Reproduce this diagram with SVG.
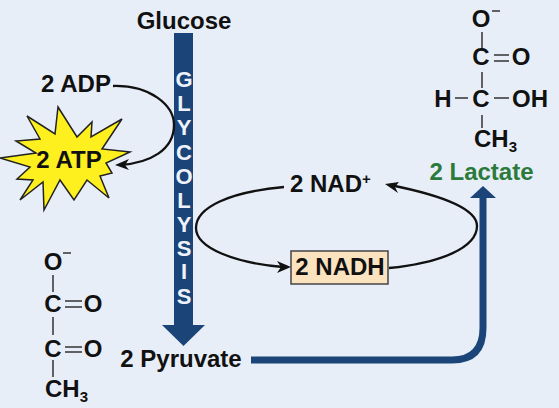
<svg xmlns="http://www.w3.org/2000/svg" width="559" height="408" viewBox="0 0 559 408">
<style>
text{font-family:"Liberation Sans",Arial,sans-serif;font-weight:700;font-size:24px;fill:#111;text-anchor:middle}
.g{font-size:22px;fill:#eef2fa}
.s{text-anchor:start}
.b{fill:none;stroke:#333;stroke-width:1.500}
.l{fill:none;stroke:#111;stroke-width:2.300}
.h{fill:#111}
</style>
<rect width="559" height="408" fill="#e8eef8"/>
<g id="connectors">
<path d="M174 33H193V325H205L183.500 346L162 325H174Z" fill="#1b4479"/>
<path d="M251 360H452Q483 360 483 328V196" fill="none" stroke="#1b4479" stroke-width="7"/>
<path d="M470 198L483 186L496 198Z" fill="#1b4479"/>
<path class="l" d="M113 86C150 85 174 105 174 125C174 150 150 163 120 165"/>
<path class="h" d="M115 165L129 159L125 165L129 170Z"/>
<path class="l" d="M284 187C230 192 196 207 196 228C196 248 235 263 283 267"/>
<path class="h" d="M291 267L277 261L281 267L277 273Z"/>
<path class="l" d="M390 185C440 195 477 208 477 226C477 248 440 263 389 268"/>
<path class="h" d="M385 184L399 182L395 187L398 193Z"/>
</g>
<g id="glycolysis"><text class="g"><tspan x="184" y="87">G</tspan><tspan x="184" y="111">L</tspan><tspan x="184" y="135">Y</tspan><tspan x="184" y="160">C</tspan><tspan x="184" y="184">O</tspan><tspan x="184" y="208">L</tspan><tspan x="184" y="232">Y</tspan><tspan x="184" y="256">S</tspan><tspan x="184" y="279">I</tspan><tspan x="184" y="304">S</tspan></text></g>
<g id="glucose"><text x="184" y="29">Glucose</text></g>
<g id="adp"><text x="76" y="92">2 ADP</text></g>
<g id="atp"><polygon points="58,107 77,137 92,122 91,137 122,119 102,149 130,152 106,163 112,173 100,176 109,198 87,180 74,200 60,180 44,210 43,182 20,200 33,180 17,179 30,167 0,158 36,153 16,141 40,139 27,116 55,134" fill="#fdf01e" stroke="#222" stroke-width="1.500"/><text x="69" y="168">2 ATP</text></g>
<g id="nad"><text class="s" x="290" y="192">2 NAD<tspan font-size="15" dy="-8">+</tspan></text></g>
<g id="nadh"><rect x="291" y="251" width="97" height="33" fill="#fce3c0" stroke="#444" stroke-width="1.500"/><text x="340" y="275">2 NADH</text></g>
<g id="pyruvate"><text x="181" y="367">2 Pyruvate</text></g>
<g id="lactate"><text x="481.500" y="180" style="fill:#2a7a3c">2 Lactate</text></g>
<g id="lactate-structure">
<text x="481" y="27">O</text>
<text x="481" y="65">C</text><text x="521" y="65">O</text>
<text x="443" y="107">H</text><text x="481" y="107">C</text><text x="530" y="107">OH</text>
<text class="s" x="474" y="147">CH<tspan font-size="15" dy="5">3</tspan></text>
<path class="b" d="M492 11H500M482 32V48M482 72V88M482 115V128M455 98H468M494 98H509M494 55H509M494 61H509"/>
</g>
<g id="pyruvate-structure">
<text x="53" y="270">O</text>
<text x="53" y="312">C</text><text x="93" y="312">O</text>
<text x="53" y="357">C</text><text x="93" y="357">O</text>
<text class="s" x="45" y="397">CH<tspan font-size="15" dy="5">3</tspan></text>
<path class="b" d="M63 253H71M53 275V292M53 317V335M53 360V377M65 301H82M65 307H82M65 347H82M65 352H82"/>
</g>
</svg>
